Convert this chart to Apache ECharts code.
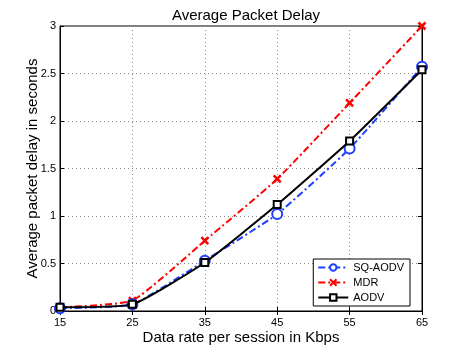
<!DOCTYPE html>
<html>
<head>
<meta charset="utf-8">
<script src="https://cdn.jsdelivr.net/npm/echarts@6/dist/echarts.min.js"></script>
<style>html,body{margin:0;padding:0;background:#fff}#c{width:467px;height:351px}</style>
</head>
<body>
<div id="c"></div>
<script>
const categories = ['15', '25', '35', '45', '55', '65'];
const sqAodv = [0.03, 0.07, 0.53, 1.02, 1.71, 2.57];
const mdr = [0.04, 0.11, 0.74, 1.39, 2.19, 3.0];
const aodv = [0.04, 0.07, 0.51, 1.12, 1.79, 2.54];
const yTicks = [0, 0.5, 1, 1.5, 2, 2.5, 3];

const font = 'Liberation Sans, Arial, Helvetica, sans-serif';
const chart = echarts.init(document.getElementById('c'));
const dashDot = [7, 3, 2, 3];
chart.setOption({
  backgroundColor: '#fff',
  animation: false,
  title: {
    text: 'Average Packet Delay', left: 241, textAlign: 'center', top: 3,
    textStyle: { fontFamily: font, fontSize: 15, fontWeight: 'normal', color: '#000' }
  },
  grid: { left: 60, right: 45, top: 26, bottom: 40, show: true, borderColor: '#000', borderWidth: 1 },
  legend: {
    orient: 'vertical', right: 57, bottom: 45,
    backgroundColor: '#fff', borderColor: '#000', borderWidth: 1, borderRadius: 0,
    padding: [3, 6, 3, 4], itemGap: 4, itemWidth: 30, itemHeight: 8,
    textStyle: { fontFamily: font, fontSize: 11, color: '#000' },
    data: ['SQ-AODV', 'MDR', 'AODV']
  },
  xAxis: [{
    type: 'category', data: categories, boundaryGap: false,
    name: 'Data rate per session in Kbps', nameLocation: 'middle', nameGap: 19,
    nameMoveOverlap: false,
    nameTextStyle: { fontFamily: font, fontSize: 15, color: '#000' },
    axisLine: { lineStyle: { color: '#000' } },
    axisTick: { inside: true, length: 4, lineStyle: { color: '#000' } },
    axisLabel: { fontFamily: font, fontSize: 11, color: '#000', margin: 6 },
    splitLine: { show: true, lineStyle: { type: [1, 3], color: '#888' } }
  }, {
    type: 'category', data: categories, boundaryGap: false, position: 'top',
    axisLine: { lineStyle: { color: '#000' } },
    axisTick: { inside: true, length: 4, lineStyle: { color: '#000' } },
    axisLabel: { show: false }, splitLine: { show: false }
  }],
  yAxis: [{
    type: 'value', min: 0, max: 3, interval: 0.5,
    name: 'Average packet delay in seconds', nameLocation: 'middle', nameGap: 20,
    nameMoveOverlap: false,
    nameTextStyle: { fontFamily: font, fontSize: 15, color: '#000' },
    axisLine: { show: true, lineStyle: { color: '#000' } },
    axisTick: { show: true, inside: true, length: 4, lineStyle: { color: '#000' } },
    axisLabel: { fontFamily: font, fontSize: 11, color: '#000', margin: 4,
      formatter: v => yTicks.includes(v) ? String(v) : '' },
    splitLine: { show: true, lineStyle: { type: [1, 3], color: '#888' } }
  }, {
    type: 'value', min: 0, max: 3, interval: 0.5, position: 'right',
    axisLine: { show: true, lineStyle: { color: '#000' } },
    axisTick: { show: true, inside: true, length: 4, lineStyle: { color: '#000' } },
    axisLabel: { show: false }, splitLine: { show: false }
  }],
  series: [
    {
      name: 'MDR', type: 'line', data: mdr, smooth: 0.15, z: 3,
      symbol: 'path://M0,0L10,10M10,0L0,10', symbolSize: 7,
      itemStyle: { color: '#ff0000', borderColor: '#ff0000', borderWidth: 2.5 },
      lineStyle: { color: '#ff0000', width: 2, type: dashDot }
    },
    {
      name: 'SQ-AODV', type: 'line', data: sqAodv, smooth: 0.15, z: 4,
      symbol: 'emptyCircle', symbolSize: 10,
      itemStyle: { color: '#1f3fff', borderColor: '#1f3fff', borderWidth: 2 },
      lineStyle: { color: '#1f3fff', width: 2, type: dashDot }
    },
    {
      name: 'AODV', type: 'line', data: aodv, smooth: 0.15, z: 5,
      symbol: 'rect', symbolSize: 7,
      itemStyle: { color: '#fff', borderColor: '#000', borderWidth: 2 },
      lineStyle: { color: '#000', width: 2, type: 'solid' }
    }
  ]
});
</script>
</body>
</html>
